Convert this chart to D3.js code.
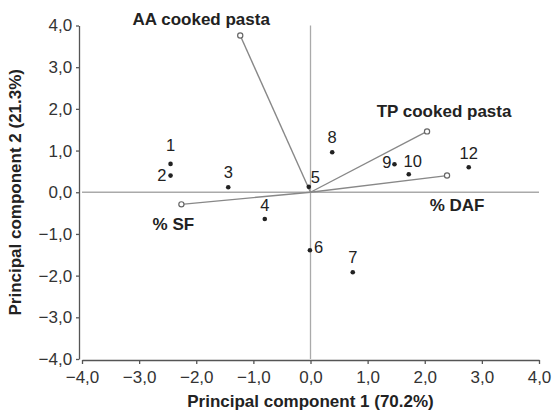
<!DOCTYPE html>
<html>
<head>
<meta charset="utf-8">
<script src="https://cdn.jsdelivr.net/npm/d3@7"></script>
<style>
  body { margin: 0; background: #fff; }
  svg text { font-family: "Liberation Sans", Arial, sans-serif; }
  .axis path, .axis line { stroke: #555; stroke-width: 1.3; }
  .axis text { font-size: 17px; fill: #333; }
</style>
</head>
<body>
<div class="pca"></div>
<script>
// sample scores
var sampleIds = ["1", "2", "3", "4", "5", "6", "7", "8", "9", "10", "12"];
var pc1Scores = [-2.45, -2.45, -1.44, -0.80, -0.03, -0.01, 0.74, 0.38, 1.47, 1.72, 2.77];
var pc2Scores = [0.68, 0.40, 0.12, -0.64, 0.13, -1.39, -1.92, 0.96, 0.67, 0.43, 0.60];

// loading vectors
var vectorNames = ["AA cooked pasta", "TP cooked pasta", "% DAF", "% SF"];
var vectorPc1 = [-1.23, 2.04, 2.39, -2.26];
var vectorPc2 = [3.76, 1.46, 0.40, -0.29];

var tickValues = [-4, -3, -2, -1, 0, 1, 2, 3, 4];

// label placement (pixel offsets from the mark)
var sampleLabelPos = {
  "1": [0, -13, "middle"], "2": [-4, 5, "end"], "3": [0, -9, "middle"],
  "4": [0, -8, "middle"], "5": [2, -4, "start"], "6": [4, 3, "start"],
  "7": [0, -9, "middle"], "8": [0, -9, "middle"], "9": [-3, 4, "end"],
  "10": [4, -7, "middle"], "12": [0, -8, "middle"]
};
var vectorLabelPos = [[-39, -11], [17, -14], [10, 35], [-8, 26]];

var svg = d3.select(".pca").append("svg").attr("width", 552).attr("height", 413),
    x = d3.scaleLinear().domain([-4, 4]).range([82, 539]),
    y = d3.scaleLinear().domain([-4, 4]).range([359, 25.5]);

var fmt = d => d3.format(".1f")(Math.abs(d)).replace(".", ",");
var tickFmt = d => (d < 0 ? "\u2212" : "") + fmt(d);

// crosshair at origin
svg.append("line")
    .attr("x1", x(-4)).attr("x2", x(4))
    .attr("y1", y(0)).attr("y2", y(0))
    .attr("stroke", "#aaa").attr("stroke-width", 1.3);
svg.append("line")
    .attr("x1", x(0)).attr("x2", x(0))
    .attr("y1", y(4)).attr("y2", y(-4))
    .attr("stroke", "#aaa").attr("stroke-width", 1.3);

// axes
svg.append("g")
    .attr("class", "axis axis-x")
    .attr("transform", `translate(0,${y(-4) + 1})`)
    .call(d3.axisBottom(x).tickValues(tickValues).tickFormat(tickFmt).tickSize(4).tickSizeOuter(0))
    .selectAll("text").attr("dy", "0.95em");

svg.append("g")
    .attr("class", "axis axis-y")
    .attr("transform", `translate(${x(-4) - 3},0)`)
    .call(d3.axisLeft(y).tickValues(tickValues).tickFormat(tickFmt).tickSize(3).tickSizeOuter(0))
    .selectAll("text").attr("dx", "-0.05em");

// axis titles
svg.append("text")
    .attr("x", x(0)).attr("y", 407)
    .attr("text-anchor", "middle")
    .style("font-size", "17px").style("font-weight", "bold").attr("fill", "#222")
    .text("Principal component 1 (70.2%)");

svg.append("text")
    .attr("transform", `translate(21,${y(0)}) rotate(-90)`)
    .attr("text-anchor", "middle")
    .style("font-size", "17px").style("font-weight", "bold").attr("fill", "#222")
    .text("Principal component 2 (21.3%)");

// loading vectors
var vectors = vectorNames.map((n, i) => ({name: n, px: vectorPc1[i], py: vectorPc2[i], pos: vectorLabelPos[i]}));

svg.selectAll(".vec")
  .data(vectors)
  .enter().append("line")
    .attr("class", "vec")
    .attr("x1", x(0)).attr("y1", y(0))
    .attr("x2", d => x(d.px)).attr("y2", d => y(d.py))
    .attr("stroke", "#888").attr("stroke-width", 1.4);

svg.selectAll(".vec-tip")
  .data(vectors)
  .enter().append("circle")
    .attr("class", "vec-tip")
    .attr("cx", d => x(d.px)).attr("cy", d => y(d.py))
    .attr("r", 2.6)
    .attr("fill", "#fff").attr("stroke", "#666").attr("stroke-width", 1.2);

svg.selectAll(".vec-label")
  .data(vectors)
  .enter().append("text")
    .attr("class", "vec-label")
    .attr("x", d => x(d.px) + d.pos[0]).attr("y", d => y(d.py) + d.pos[1])
    .attr("text-anchor", "middle")
    .style("font-size", "17px").style("font-weight", "bold").attr("fill", "#222")
    .text(d => d.name);

// sample points
var samples = sampleIds.map((id, i) => ({id: id, px: pc1Scores[i], py: pc2Scores[i]}));

svg.selectAll(".pt")
  .data(samples)
  .enter().append("circle")
    .attr("class", "pt")
    .attr("cx", d => x(d.px)).attr("cy", d => y(d.py))
    .attr("r", 2.3)
    .attr("fill", "#222");

svg.selectAll(".pt-label")
  .data(samples)
  .enter().append("text")
    .attr("class", "pt-label")
    .attr("x", d => x(d.px) + sampleLabelPos[d.id][0])
    .attr("y", d => y(d.py) + sampleLabelPos[d.id][1])
    .attr("text-anchor", d => sampleLabelPos[d.id][2])
    .style("font-size", "16.5px").attr("fill", "#222")
    .text(d => d.id);
</script>
</body>
</html>
